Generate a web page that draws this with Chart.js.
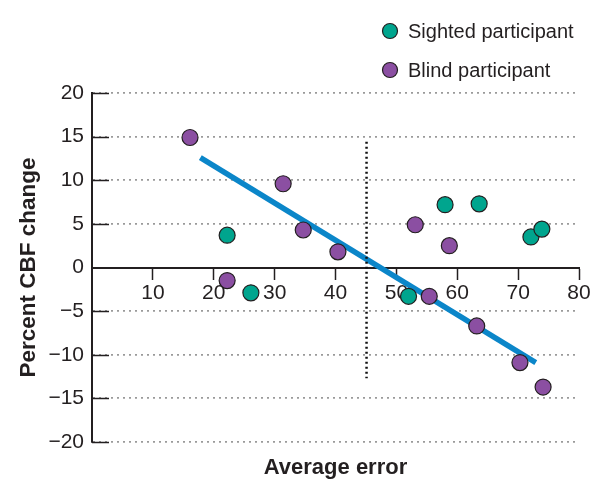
<!DOCTYPE html>
<html>
<head>
<meta charset="utf-8">
<script src="https://cdn.jsdelivr.net/npm/chart.js@4.4.0/dist/chart.umd.min.js"></script>
<style>
  html, body { margin: 0; padding: 0; background: #fff; }
  #wrap { position: relative; width: 612px; height: 490px; }
</style>
</head>
<body>
<div id="wrap"><canvas id="chart" width="612" height="490"></canvas></div>
<script>
// data
const sightedX = [22.2, 26.1, 52.0, 58.0, 63.6, 72.1, 73.9];
const sightedY = [3.7, -2.9, -3.3, 7.2, 7.3, 3.5, 4.4];
const blindX = [16.1, 22.2, 31.4, 34.7, 40.4, 53.1, 55.4, 58.7, 63.2, 70.3, 74.1];
const blindY = [14.9, -1.5, 9.6, 4.3, 1.8, 4.9, -3.3, 2.5, -6.7, -10.9, -13.7];
const fitX = [17.8, 72.9];
const fitY = [12.6, -10.9];
const cutX = [45.1, 45.1];
const cutY = [14.4, -12.7];
const xTicks = [10, 20, 30, 40, 50, 60, 70, 80];
const yTicks = [-20, -15, -10, -5, 0, 5, 10, 15, 20];

const INK = '#231f20';
const TEAL = '#00a58e';
const PURPLE = '#8b4fa2';
const BLUE = '#0b86c9';

Chart.defaults.font.family = "'Liberation Sans', Arial, Helvetica, sans-serif";
Chart.defaults.color = INK;

const toPoints = (xs, ys) => xs.map((x, i) => ({ x: x, y: ys[i] }));

// short solid ticks on the inside of the y axis
const yStubs = {
  id: 'yStubs',
  beforeDatasetsDraw(chart) {
    const { ctx, chartArea } = chart;
    const y = chart.scales.y;
    ctx.save();
    ctx.strokeStyle = INK;
    ctx.lineWidth = 1.5;
    y.ticks.forEach(t => {
      if (t.value === 0) return;
      const py = Math.round(y.getPixelForValue(t.value)) + 0.5;
      ctx.beginPath();
      ctx.moveTo(chartArea.left, py);
      ctx.lineTo(chartArea.left + 17, py);
      ctx.stroke();
    });
    ctx.restore();
  }
};

// vertical legend in the top right corner
const legendOrder = ['Sighted participant', 'Blind participant'];
const cornerLegend = {
  id: 'cornerLegend',
  afterDraw(chart) {
    const ctx = chart.ctx;
    ctx.save();
    ctx.font = "20px 'Liberation Sans', Arial, sans-serif";
    ctx.textBaseline = 'middle';
    legendOrder.forEach((name, i) => {
      const ds = chart.data.datasets.find(d => d.label === name);
      const cy = 31 + i * 39;
      ctx.beginPath();
      ctx.arc(390, cy, 7.5, 0, Math.PI * 2);
      ctx.fillStyle = ds.backgroundColor;
      ctx.fill();
      ctx.lineWidth = 1.2;
      ctx.strokeStyle = ds.borderColor;
      ctx.stroke();
      ctx.fillStyle = INK;
      ctx.fillText(name, 408, cy + 1);
    });
    ctx.restore();
  }
};

const ctx = document.getElementById('chart').getContext('2d');
const chart = new Chart(ctx, {
  type: 'scatter',
  data: {
    datasets: [
      {
        label: 'Blind participant',
        data: toPoints(blindX, blindY),
        backgroundColor: PURPLE,
        borderColor: INK,
        borderWidth: 1.2,
        pointRadius: 8,
        order: 1
      },
      {
        label: 'Sighted participant',
        data: toPoints(sightedX, sightedY),
        backgroundColor: TEAL,
        borderColor: INK,
        borderWidth: 1.2,
        pointRadius: 8,
        order: 2
      },
      {
        type: 'line',
        label: 'cutoff',
        data: toPoints(cutX, cutY),
        borderColor: '#111',
        borderWidth: 2.5,
        borderDash: [2, 3],
        pointRadius: 0,
        order: 3
      },
      {
        type: 'line',
        label: 'fit',
        data: toPoints(fitX, fitY),
        borderColor: BLUE,
        borderWidth: 5.5,
        pointRadius: 0,
        order: 4
      }
    ]
  },
  options: {
    responsive: false,
    animation: false,
    layout: { padding: { top: 93, right: 33, bottom: 0, left: 0 } },
    plugins: {
      legend: { display: false },
      tooltip: { enabled: false },
      title: {
        display: true,
        text: 'Average error',
        position: 'bottom',
        fullSize: false,
        color: INK,
        font: { size: 22, weight: 'bold' },
        padding: { top: 13, bottom: 8.6 }
      }
    },
    scales: {
      x: {
        type: 'linear',
        min: 0,
        max: 80,
        position: { y: 0 },
        afterBuildTicks: s => { s.ticks = xTicks.map(v => ({ value: v })); },
        grid: { drawOnChartArea: false, drawTicks: true, tickLength: 11, tickColor: INK, tickWidth: 1.5 },
        border: { display: true, color: INK, width: 2 },
        ticks: { padding: 2, font: { size: 21 }, color: INK, maxRotation: 0, autoSkip: false }
      },
      y: {
        type: 'linear',
        min: -20,
        max: 20,
        position: 'left',
        afterBuildTicks: s => { s.ticks = yTicks.map(v => ({ value: v })); },
        afterFit: s => { s.width = 92; },
        grid: {
          drawTicks: false,
          color: c => (c.tick && c.tick.value === 0) ? 'rgba(0,0,0,0)' : '#9a9a9a',
          lineWidth: 1.8
        },
        border: { display: true, color: INK, width: 2, dash: [2, 4] },
        ticks: {
          padding: 8,
          font: { size: 21 },
          color: INK,
          callback: v => String(v).replace('-', '\u2212')
        },
        title: {
          display: true,
          text: 'Percent CBF change',
          color: INK,
          font: { size: 22.5, weight: 'bold' },
          padding: { top: 15, bottom: 0 }
        }
      }
    }
  },
  plugins: [yStubs, cornerLegend]
});
</script>
</body>
</html>
